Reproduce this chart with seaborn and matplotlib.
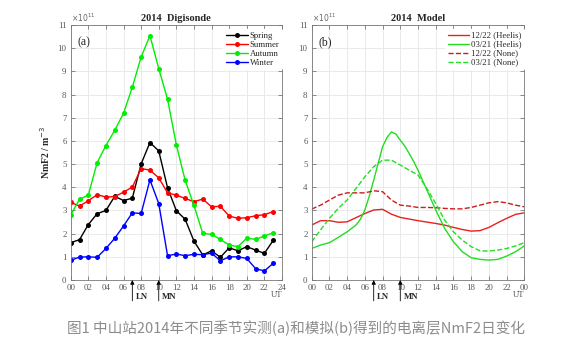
import seaborn as sns
import matplotlib.pyplot as plt

# --- Data: NmF2 in units of 1e11 m^-3 ---
hours_obs = list(range(24))
spring = [1.61, 1.74, 2.39, 2.86, 3.00, 3.61, 3.43, 3.53, 5.01, 5.93, 5.57, 3.98,
          2.99, 2.62, 1.68, 1.08, 1.26, 0.98, 1.39, 1.26, 1.44, 1.29, 1.15, 1.71]
summer = [3.35, 3.19, 3.42, 3.68, 3.58, 3.60, 3.79, 4.01, 4.81, 4.74, 4.41, 3.76,
          3.66, 3.52, 3.38, 3.49, 3.16, 3.18, 2.76, 2.66, 2.69, 2.77, 2.82, 2.95]
autumn = [2.80, 3.49, 3.66, 5.06, 5.80, 6.46, 7.19, 8.32, 9.62, 10.54, 9.12, 7.80,
          5.83, 4.30, 3.22, 2.01, 1.97, 1.75, 1.51, 1.44, 1.81, 1.75, 1.90, 2.04]
winter = [0.85, 0.99, 1.00, 0.98, 1.36, 1.80, 2.33, 2.90, 2.87, 4.32, 3.30, 1.05,
          1.12, 1.05, 1.11, 1.09, 1.16, 0.83, 1.00, 1.00, 0.93, 0.49, 0.39, 0.72]

hours_mod = list(range(25))
dec_heelis = [2.37, 2.56, 2.56, 2.49, 2.51, 2.69, 2.87, 3.02, 3.05, 2.84, 2.70, 2.63,
              2.56, 2.50, 2.44, 2.37, 2.27, 2.18, 2.11, 2.13, 2.27, 2.47, 2.66, 2.83, 2.90]
dec_none = [3.06, 3.23, 3.45, 3.66, 3.76, 3.76, 3.76, 3.85, 3.81, 3.45, 3.23, 3.19,
            3.13, 3.13, 3.12, 3.09, 3.07, 3.07, 3.13, 3.23, 3.33, 3.38, 3.33, 3.23, 3.16]
mar_none = [1.65, 2.16, 2.66, 3.09, 3.45, 3.95, 4.45, 4.89, 5.17, 5.17, 4.96, 4.74,
            4.53, 3.95, 3.30, 2.59, 2.08, 1.72, 1.44, 1.26, 1.25, 1.29, 1.36, 1.47, 1.61]
# 03/21 Heelis read at half-hour steps around the sharp daytime peak
hours_mar_heelis = [0, 1, 2, 3, 4, 5, 5.5, 6, 6.5, 7, 7.5, 8, 8.5, 9, 9.5, 10, 10.5,
                    11, 11.5, 12, 13, 14, 15, 16, 17, 18, 19, 20, 21, 22, 23, 24]
mar_heelis = [1.36, 1.51, 1.61, 1.84, 2.08, 2.37, 2.62, 3.02, 3.62, 4.31, 5.03, 5.75,
              6.15, 6.39, 6.30, 6.03, 5.78, 5.46, 5.12, 4.74, 3.88, 3.02, 2.23, 1.65,
              1.22, 0.96, 0.89, 0.86, 0.89, 1.03, 1.22, 1.47]

xticks = list(range(0, 25, 2))
xlabels_a = ["00", "02", "04", "06", "08", "10", "12", "14", "16", "18", "20", "22", "24"]
xlabels_b = ["00", "02", "04", "06", "08", "10", "12", "14", "16", "18", "20", "22", "00"]
ln_hour, mn_hour = 7, 10

sns.set_theme(style="ticks")
plt.rcParams["font.family"] = ["Liberation Serif", "DejaVu Serif"]
plt.rcParams["axes.edgecolor"] = "#777777"
plt.rcParams["xtick.color"] = "#777777"
plt.rcParams["ytick.color"] = "#777777"

fig = plt.figure(figsize=(5.8, 3.52), dpi=100)
ax1 = fig.add_axes([0.1219, 0.2045, 0.3643, 0.7244])
ax2 = fig.add_axes([0.5374, 0.2045, 0.3666, 0.7244])

# (a) observations
for vals, col, lab in [(spring, "#000000", "Spring"), (summer, "#ff0000", "Summer"),
                       (autumn, "#00ee00", "Autumn"), (winter, "#0000ff", "Winter")]:
    sns.lineplot(x=hours_obs, y=vals, ax=ax1, color=col, marker="o", markersize=3.6,
                 markeredgewidth=0, linewidth=1.0, label=lab)

# (b) model
for xs, vals, col, ls, lab in [(hours_mod, dec_heelis, "#e82020", "-", "12/22 (Heelis)"),
                               (hours_mar_heelis, mar_heelis, "#22dd22", "-", "03/21 (Heelis)"),
                               (hours_mod, dec_none, "#cc1c1c", "--", "12/22 (None)"),
                               (hours_mod, mar_none, "#22dd22", "--", "03/21 (None)")]:
    sns.lineplot(x=xs, y=vals, ax=ax2, color=col, linestyle=ls,
                 linewidth=1.0, label=lab)

for ax, labs, title, tag in [(ax1, xlabels_a, "2014  Digisonde", "(a)"),
                             (ax2, xlabels_b, "2014  Model", "(b)")]:
    ax.set_xlim(0, 24)
    ax.set_ylim(0, 11)
    ax.set_xticks(xticks)
    ax.set_xticklabels(labs)
    ax.set_yticks(range(12))
    ax.tick_params(direction="in", top=True, right=True, length=3, width=0.6,
                   labelsize=6.3, labelcolor="#555555", pad=3)
    ax.grid(True, color="#e6e6e6", linewidth=0.6)
    ax.set_axisbelow(True)
    for s in ax.spines.values():
        s.set_linewidth(0.6)
    ax.set_title(title, fontsize=7.5, fontweight="bold", pad=3)
    ax.text(0.03, 0.955, tag, transform=ax.transAxes, fontsize=8.5, va="top")
    ax.text(0.0, 1.005, r"$\times10^{11}$", transform=ax.transAxes, fontsize=5.5,
            color="#666666", va="bottom")
    ax.text(1.0, -0.045, "UT", transform=ax.transAxes, fontsize=6.3,
            color="#555555", ha="right", va="top")
    ax.set_xlabel("")
    for h, name in [(ln_hour, "LN"), (mn_hour, "MN")]:
        ax.annotate("", xy=(h, 0), xytext=(h, -0.9), annotation_clip=False,
                    arrowprops=dict(arrowstyle="-|>", color="black", lw=0.6,
                                    mutation_scale=6, shrinkA=0, shrinkB=0))
        ax.text(h + 0.35, -0.72, name, fontsize=6.3, fontweight="bold", va="center")
    leg = ax.legend(loc="upper right", bbox_to_anchor=(1.0, 0.985), fontsize=6.3,
                    frameon=True, handlelength=2.5, labelspacing=0.1,
                    handletextpad=0.2, borderpad=0.3, borderaxespad=0.0)
    leg.get_frame().set_edgecolor("white")
    leg.get_frame().set_facecolor("white")
    leg.get_frame().set_alpha(1)

ax1.set_ylabel(r"NmF2 / m$^{-3}$", fontsize=7, fontweight="bold", labelpad=4)
ax2.set_ylabel("")

fig.text(0.51, 0.068, "图1 中山站2014年不同季节实测(a)和模拟(b)得到的电离层NmF2日变化",
         ha="center", va="center", fontsize=10.5, color="#8c8c8c",
         family=["Noto Sans CJK SC", "DejaVu Sans"])

fig.savefig("out.png", dpi=100)
